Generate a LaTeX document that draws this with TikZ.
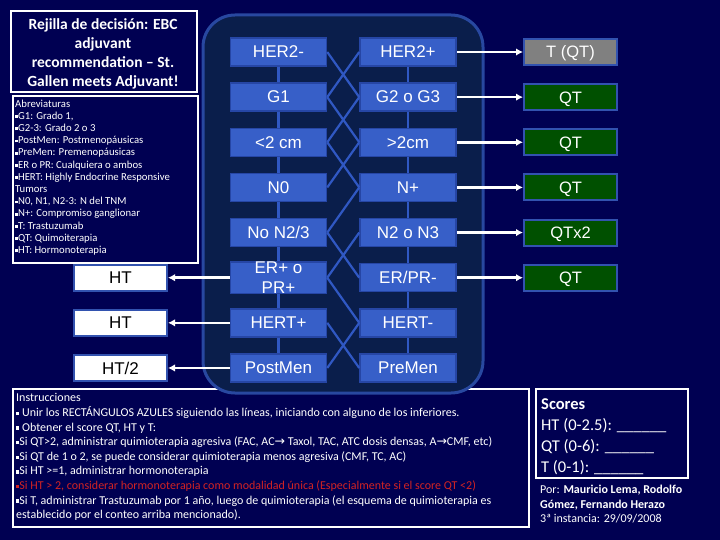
\documentclass[tikz,border=0pt]{standalone}
\usepackage{fontspec}
\setmainfont{Carlito}
\newfontfamily\arial{Liberation Sans}
\newfontfamily\djv{DejaVu Sans}
\usetikzlibrary{arrows.meta}

\definecolor{bg}{RGB}{0,0,82}
\definecolor{panelfill}{RGB}{10,30,75}
\definecolor{paneledge}{RGB}{40,72,160}
\definecolor{boxfill}{RGB}{55,95,200}
\definecolor{boxedge}{RGB}{38,70,165}
\definecolor{linkc}{RGB}{48,88,195}
\definecolor{qtgreen}{RGB}{0,80,0}
\definecolor{tgray}{RGB}{128,128,128}
\definecolor{outedge}{RGB}{50,82,175}
\definecolor{redtxt}{RGB}{210,35,35}

\newcommand\sqb{\raisebox{0.25ex}{\rule{0.27em}{0.27em}}}
\newcommand\rarr{{\djv\fontsize{12.5}{12}\selectfont →}}

\tikzset{
 gridbox/.style={draw=boxedge, line width=1.5pt, fill=boxfill, minimum width=96pt, minimum height=28pt, inner sep=0pt, text=white, font=\arial\fontsize{17}{20}\selectfont, align=center},
 outbox/.style={draw=outedge, line width=2pt, minimum width=93pt, minimum height=26pt, inner sep=0pt, text=white, font=\arial\fontsize{16.5}{19}\selectfont, text height=11.8pt, text depth=0pt},
 htbox/.style={draw=outedge, line width=2pt, fill=white, minimum width=93pt, minimum height=26pt, inner sep=0pt, text=black, font=\arial\fontsize{17}{19}\selectfont, text height=12.2pt, text depth=0pt},
 link/.style={draw=linkc, line width=2.2pt},
 whitearrow/.style={draw=white, line width=2.5pt, -{Latex[length=7pt,width=7.5pt]}},
 whiteframe/.style={draw=white, line width=2pt},
 txtblock/.style={text=white, align=left, inner sep=0pt, anchor=north west},
}

\begin{document}
\begin{tikzpicture}[x=1pt,y=-1pt]
\useasboundingbox (0,0) rectangle (720,540);
\fill[bg] (0,0) rectangle (720,540);

% title and abbreviations
\node[whiteframe, minimum width=186pt, minimum height=81pt, anchor=north west] (titlebox) at (10,10) {};
\node[text=white, align=center, font=\bfseries\fontsize{15.5}{19}\selectfont] (title) at (103,53.5)
 {Rejilla de decisión: EBC\\adjuvant\\recommendation – St.\\Gallen meets Adjuvant!};
\node[whiteframe, minimum width=185pt, minimum height=167pt, anchor=north west] (abbrbox) at (12,95) {};
\node[txtblock, font=\fontsize{10.7}{12.2}\selectfont] (abbr) at (15,99.5)
 {Abreviaturas\\
 \sqb G1: Grado 1,\\
 \sqb G2-3: Grado 2 o 3\\
 \sqb PostMen: Postmenopáusicas\\
 \sqb PreMen: Premenopáusicas\\
 \sqb ER o PR: Cualquiera o ambos\\
 \sqb HERT: Highly Endocrine Responsive\\
 Tumors\\
 \sqb N0, N1, N2-3: N del TNM\\
 \sqb N+: Compromiso ganglionar\\
 \sqb T: Trastuzumab\\
 \sqb QT: Quimoiterapia\\
 \sqb HT: Hormonoterapia};

% instructions box (under the panel)
\node[whiteframe, minimum width=516pt, minimum height=138pt, anchor=north west] (instbox) at (12,388) {};
\node[txtblock, font=\fontsize{12}{14.6}\selectfont] (inst) at (16,393.5)
 {Instrucciones\\
 \sqb\ Unir los RECTÁNGULOS AZULES siguiendo las líneas, iniciando con alguno de los inferiores.\\
 \sqb\ Obtener el score QT, HT y T:\\
 \sqb Si QT>2, administrar quimioterapia agresiva (FAC, AC\rarr\ Taxol, TAC, ATC dosis densas, A\rarr CMF, etc)\\
 \sqb Si QT de 1 o 2, se puede considerar quimioterapia menos agresiva (CMF, TC, AC)\\
 \sqb Si HT >=1, administrar hormonoterapia\\
 \textcolor{redtxt}{\sqb Si HT > 2, considerar hormonoterapia como modalidad única (Especialmente si el score QT <2)}\\
 \sqb Si T, administrar Trastuzumab por 1 año, luego de quimioterapia (el esquema de quimioterapia es\\
 establecido por el conteo arriba mencionado).};

% panel
\draw[fill=panelfill, draw=paneledge, line width=3pt, rounded corners=32pt] (203,15) rectangle (483,393);

% grid boxes
\foreach \n/\t [count=\i] in {l1/HER2-, l2/G1, l3/<2 cm, l4/N0, l5/No N2\slash 3, l6/{ER+ o\\PR+}, l7/HERT+, l8/PostMen}
 \node[gridbox] (\n) at (278.5, {52+45.14*(\i-1)}) {\t};
\foreach \n/\t [count=\i] in {r1/HER2+, r2/G2 o G3, r3/>2cm, r4/N+, r5/N2 o N3, r6/ER\slash PR-, r7/HERT-, r8/PreMen}
 \node[gridbox] (\n) at (408, {52+45.14*(\i-1)}) {\t};

% vertical links
\foreach \a/\b in {1/2,2/3,3/4,4/5,5/6,6/7,7/8} {
 \draw[link] (l\a) -- (l\b);
 \draw[link] (r\a) -- (r\b);
}
% crossing links
\foreach \a/\b in {l1/r2, l2/r3, l3/r4, l5/r6, l6/r7, l7/r8}
 \draw[link] (\a.east) -- (\b.west);
\foreach \a/\b in {r1/l2, r2/l3, r3/l4, r4/l5, r5/l6, r7/l8}
 \draw[link] (\a.west) -- (\b.east);

% outputs
\node[outbox, fill=tgray] (o1) at (570.5,52) {T (QT)};
\node[outbox, fill=qtgreen] (o2) at (570.5,{52+45.14}) {QT};
\node[outbox, fill=qtgreen] (o3) at (570.5,{52+45.14*2}) {QT};
\node[outbox, fill=qtgreen] (o4) at (570.5,{52+45.14*3}) {QT};
\node[outbox, fill=qtgreen] (o5) at (570.5,{52+45.14*4}) {QTx2};
\node[outbox, fill=qtgreen] (o6) at (570.5,{52+45.14*5}) {QT};
\foreach \i in {1,...,6}
 \draw[whitearrow] (r\i.east) -- (o\i.west);

\node[htbox] (h6) at (120.5,{52+45.14*5}) {HT};
\node[htbox] (h7) at (120.5,{52+45.14*6}) {HT};
\node[htbox] (h8) at (120.5,{52+45.14*7}) {HT/2};
\foreach \i in {6,7,8}
 \draw[whitearrow] (l\i.west) -- (h\i.east);

% scores
\node[whiteframe, minimum width=152pt, minimum height=89pt, anchor=north west] (scorebox) at (535,388) {};
\node[txtblock, font=\fontsize{16.5}{21.3}\selectfont] (scores) at (541,398)
 {\textbf{Scores}\\
 HT (0-2.5): \_\_\_\_\_\_\\
 QT (0-6): \_\_\_\_\_\_\\
 T (0-1): \_\_\_\_\_\_};
\node[txtblock, font=\fontsize{12}{14.5}\selectfont] (authors) at (540,485)
 {Por: \textbf{Mauricio Lema, Rodolfo}\\
 \textbf{Gómez, Fernando Herazo}\\
 3ª instancia: 29/09/2008};
\end{tikzpicture}
\end{document}
